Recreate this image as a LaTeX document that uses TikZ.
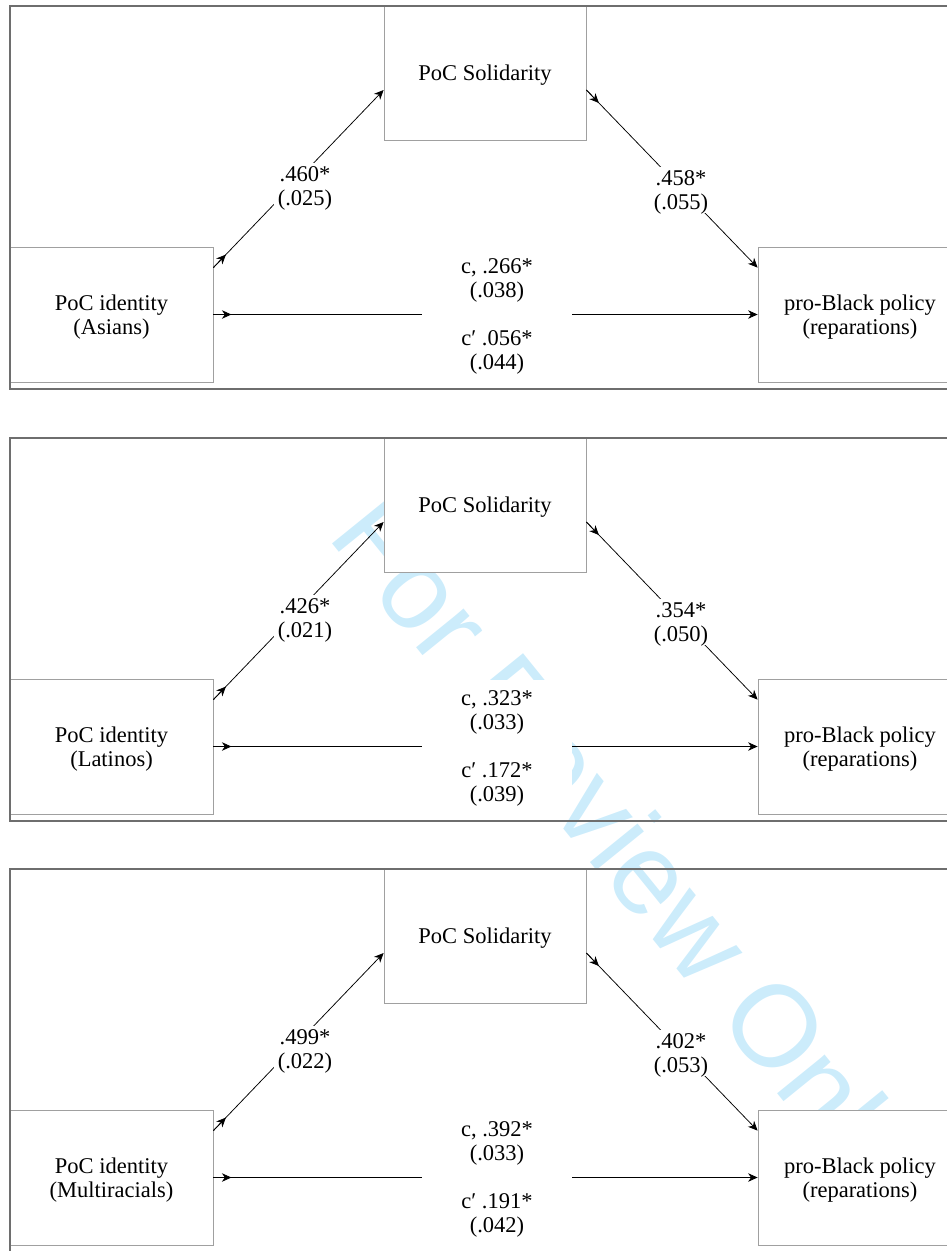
\documentclass[tikz,border=0pt]{standalone}
\usepackage{fontspec}
\setmainfont{Liberation Serif}
\newfontfamily\wmfont{Liberation Sans}
\usetikzlibrary{arrows.meta,calc}
\newcommand\figfont{\fontsize{22.5}{24}\selectfont}
\definecolor{wmblue}{RGB}{204,236,251}
\definecolor{framegray}{RGB}{110,110,110}
\definecolor{boxgray}{RGB}{160,160,160}
\tikzset{
  panelframe/.style={draw=framegray, line width=1.6pt},
  varbox/.style={draw=boxgray, line width=0.8pt, fill=white, align=center, font=\figfont, inner sep=0pt, text depth=0pt},
  coef/.style={fill=white, align=center, font=\figfont, inner sep=4pt, text depth=0pt},
  midcoef/.style={fill=white, align=center, font=\figfont, inner sep=0pt, text depth=0pt, minimum width=150pt, minimum height=134pt},
  pathline/.style={line width=0.75pt, -{Stealth[length=9.5pt,width=8.5pt,inset=3pt]}},
  wm/.style={text=wmblue, font=\wmfont\fontsize{116}{116}\selectfont, inner sep=0pt},
}
\begin{document}
\begin{tikzpicture}[x=1pt,y=-1pt]
\useasboundingbox (0,0) rectangle (947,1251);
\clip (0,0) rectangle (947,1251);
\node[wm, rotate=-51, anchor=base west] (wmark) at (326,536) {For Review Only};
\foreach \vy/\vg/\va/\vsa/\vb/\vsb/\vc/\vsc/\vd/\vsd in {
  0/Asians/.460/.025/.458/.055/.266/.038/.056/.044,
  432/Latinos/.426/.021/.354/.050/.323/.033/.172/.039,
  863/Multiracials/.499/.022/.402/.053/.392/.033/.191/.042}{
  \begin{scope}[yshift=-\vy pt]
    \node[varbox, minimum width=203pt, minimum height=135pt] (L\vy) at (111.5,314.5) {PoC identity\\(\vg)};
    \node[varbox, minimum width=202pt, minimum height=134pt] (T\vy) at (485,73) {PoC Solidarity};
    \node[varbox, minimum width=204pt, minimum height=135pt] (R\vy) at (860,314.5) {pro-Black policy\\(reparations)};
    \coordinate (a1\vy) at ($(L\vy.north east)+(0,21)$);
    \coordinate (a2\vy) at ($(T\vy.west)+(0,17)$);
    \coordinate (b1\vy) at ($(T\vy.east)+(0,17)$);
    \coordinate (b2\vy) at ($(R\vy.north west)+(0,21)$);
    \draw[pathline] (a1\vy) -- (a2\vy);
    \draw[pathline] (a1\vy) -- ($(a1\vy)!18pt!(a2\vy)$);
    \draw[pathline] (b1\vy) -- (b2\vy);
    \draw[pathline] (b1\vy) -- ($(b1\vy)!18pt!(b2\vy)$);
    \draw[pathline] (L\vy.east) -- (R\vy.west);
    \draw[pathline] (L\vy.east) -- ($(L\vy.east)!18pt!(R\vy.west)$);
    \node[coef] (ca\vy) at (305,186) {\va*\\(\vsa)};
    \node[coef] (cb\vy) at (681,190) {\vb*\\(\vsb)};
    \node[midcoef] (cc\vy) at (497,314.5) {c, \vc*\\(\vsc)\\[24pt]c′ \vd*\\(\vsd)};
    \draw[panelframe] (10,6) rectangle (970,389);
  \end{scope}
}
\end{tikzpicture}
\end{document}
